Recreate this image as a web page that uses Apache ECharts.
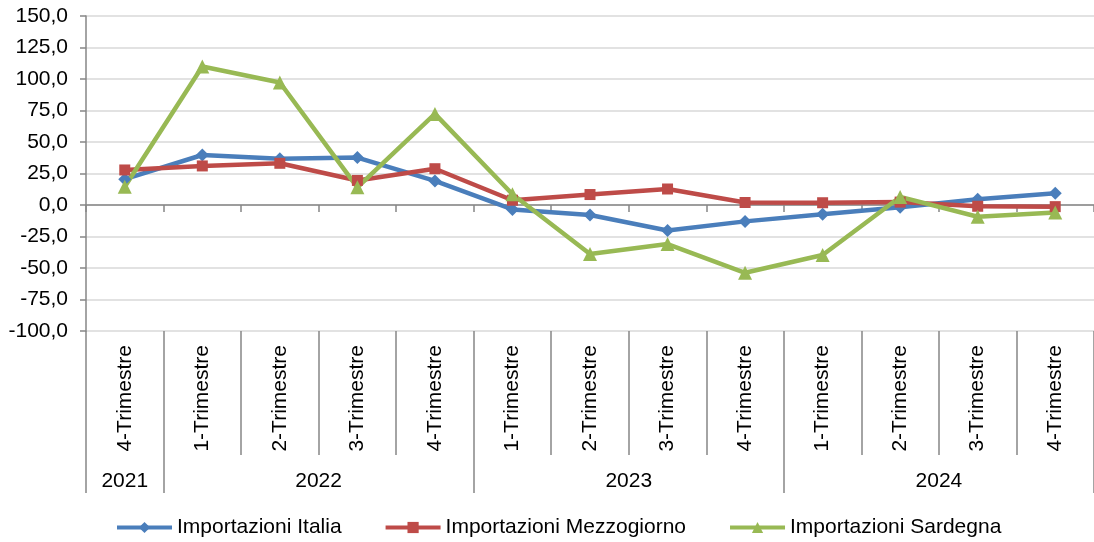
<!DOCTYPE html>
<html>
<head>
<meta charset="utf-8">
<script src="https://cdn.jsdelivr.net/npm/echarts@6/dist/echarts.min.js"></script>
<style>
  html, body { margin: 0; padding: 0; background: #fff; }
  #chart { width: 1094px; height: 542px; }
</style>
</head>
<body>
<div id="chart"></div>
<script>
// dati
var quarters = ["4-Trimestre", "1-Trimestre", "2-Trimestre", "3-Trimestre", "4-Trimestre",
                "1-Trimestre", "2-Trimestre", "3-Trimestre", "4-Trimestre",
                "1-Trimestre", "2-Trimestre", "3-Trimestre", "4-Trimestre"];
var years = ["2021", "2022", "2023", "2024"];
var yearSpans = [1, 4, 4, 4];
var italia = [20.5, 39.7, 36.8, 37.6, 19.1, -3.5, -7.9, -20.2, -13.0, -7.4, -1.8, 4.5, 9.3];
var mezzogiorno = [27.8, 31.0, 33.1, 19.5, 28.8, 3.8, 8.3, 12.7, 2.0, 1.8, 2.3, -1.0, -1.3];
var sardegna = [14.5, 109.9, 97.2, 14.0, 72.3, 8.5, -38.9, -31.0, -53.8, -39.7, 6.4, -9.3, -6.0];

// posizioni delle etichette degli anni
var yearBounds = [0], yearCenters = [];
yearSpans.forEach(function (s, i) {
  var start = yearBounds[i];
  yearBounds.push(start + s);
  yearCenters.push(start + s / 2);
});

var font = "'Liberation Sans', Arial, sans-serif";
var gray = "#868686";

var myChart = echarts.init(document.getElementById('chart'));
var option = {
  animation: false,
  textStyle: { fontFamily: font },
  color: ["#4A7EBB", "#BE4B48", "#98B954"],
  grid: { left: 86, top: 16, width: 1014, height: 315 },
  legend: {
    top: 512,
    left: 110,
    itemWidth: 55,
    itemHeight: 14,
    itemGap: 42,
    lineStyle: { width: 4 },
    textStyle: { fontSize: 21, color: "#000", fontFamily: font }
  },
  xAxis: [
    {
      // asse sullo zero, solo tacche
      type: 'category',
      data: quarters,
      position: 'bottom',
      axisLine: { onZero: true, lineStyle: { color: gray, width: 1.5 } },
      axisTick: { show: true, interval: 0, length: 7, lineStyle: { color: gray, width: 1.5 } },
      axisLabel: { show: false, interval: 0 },
      splitLine: { show: false }
    },
    {
      // trimestri in basso
      type: 'category',
      data: quarters,
      position: 'bottom',
      offset: 0,
      axisLine: { show: false, onZero: false },
      axisTick: { show: true, interval: 0, length: 124, lineStyle: { color: gray, width: 1.5 } },
      axisLabel: { rotate: 90, margin: 14, fontSize: 21, color: "#000", fontFamily: font, interval: 0 },
      splitLine: { show: false }
    },
    {
      // anni
      type: 'value',
      min: 0,
      max: quarters.length,
      position: 'bottom',
      offset: 0,
      axisLine: { show: false, onZero: false },
      axisTick: { show: true, length: 162, customValues: yearBounds, lineStyle: { color: gray, width: 1.5 } },
      axisLabel: {
        customValues: yearCenters,
        margin: 140,
        fontSize: 21,
        color: "#000",
        fontFamily: font,
        formatter: function (v) {
          var i = yearCenters.indexOf(v);
          return i >= 0 ? years[i] : '';
        }
      },
      splitLine: { show: false }
    }
  ],
  yAxis: {
    type: 'value',
    min: -100,
    max: 150,
    interval: 25,
    axisLine: { show: true, lineStyle: { color: gray, width: 1.5 } },
    axisTick: { show: true, length: 6, lineStyle: { color: gray, width: 1.5 } },
    axisLabel: {
      margin: 18,
      fontSize: 21,
      color: "#000",
      fontFamily: font,
      formatter: function (v) { return v.toFixed(1).replace('.', ','); }
    },
    splitLine: { lineStyle: { color: "#d9d9d9", width: 1.5 } }
  },
  series: [
    {
      name: "Importazioni Italia",
      type: 'line',
      data: italia,
      symbol: 'diamond',
      symbolSize: 13,
      lineStyle: { width: 4.5 }
    },
    {
      name: "Importazioni Mezzogiorno",
      type: 'line',
      data: mezzogiorno,
      symbol: 'rect',
      symbolSize: 11,
      lineStyle: { width: 4.5 }
    },
    {
      name: "Importazioni Sardegna",
      type: 'line',
      data: sardegna,
      symbol: 'triangle',
      symbolSize: 14,
      lineStyle: { width: 4.5 }
    }
  ]
};
myChart.setOption(option);
window.addEventListener("resize", function () {
  myChart.resize();
});
</script>
</body>
</html>
